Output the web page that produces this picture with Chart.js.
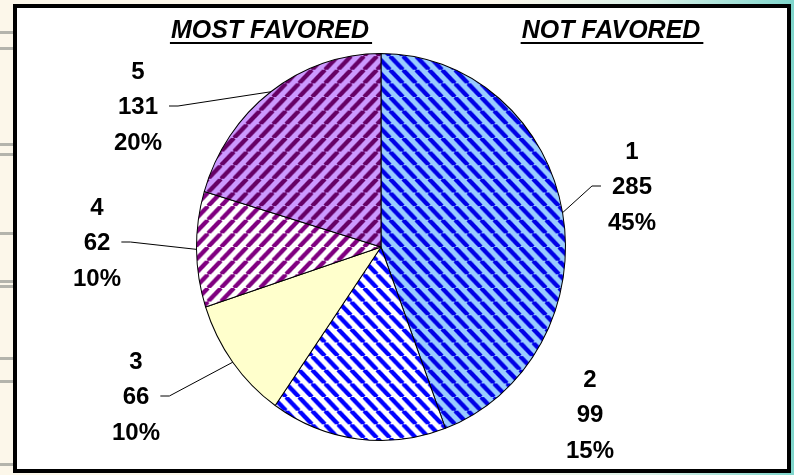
<!DOCTYPE html>
<html>
<head>
<meta charset="utf-8">
<script src="https://cdn.jsdelivr.net/npm/chart.js@4.4.0/dist/chart.umd.min.js"></script>
<style>
    html, body { margin: 0; padding: 0; }
    body {
        width: 794px; height: 475px; overflow: hidden; position: relative;
        background: linear-gradient(to right, #fcf7ea 0%, #fcf7ea 62%, #d8efe6 82%, #7fd6cc 100%);
    }
    .bar { position: absolute; left: 0; width: 13px; height: 3px; background: #b4b4ac; }
    .frame {
        position: absolute; left: 13px; top: 4px; width: 770px; height: 461px;
        border: 4px solid #000; background: #fff;
    }
    #wrap { position: absolute; left: 0; top: 0; width: 794px; height: 475px; }
</style>
</head>
<body>
<div class="bar" style="top:31px"></div>
<div class="bar" style="top:47px"></div>
<div class="bar" style="top:143px"></div>
<div class="bar" style="top:153px"></div>
<div class="bar" style="top:232px"></div>
<div class="bar" style="top:280px"></div>
<div class="bar" style="top:285px"></div>
<div class="bar" style="top:357px"></div>
<div class="bar" style="top:380px"></div>
<div class="bar" style="top:463px"></div>
<div class="frame"></div>
<div id="wrap"><canvas id="myChart" width="794" height="475"></canvas></div>
<script>
// datos
const categorias = ['1', '2', '3', '4', '5'];
const valores = [285, 99, 66, 62, 131];
const porcentajes = ['45%', '15%', '10%', '10%', '20%'];
const titulos = ['MOST FAVORED', 'NOT FAVORED'];

// donde va cada etiqueta (respecto al centro del pastel) y si lleva linea guia
const posEtiquetas = [[251, -60], [209, 168], [-245, 150], [-284, -4], [-243, -140]];
const conLinea = [true, false, true, true, true];

const SY = 1.049; // el pastel original es un poco mas alto que ancho

const rayas = (fondo, raya, dir) => {
    const n = 13;
    const c = document.createElement('canvas');
    c.width = n; c.height = n;
    const g = c.getContext('2d');
    g.fillStyle = fondo;
    g.fillRect(0, 0, n, n);
    g.strokeStyle = raya;
    g.lineWidth = 4.2;
    [-n, 0, n].forEach(o => {
        g.beginPath();
        if (dir === '\\') {
            g.moveTo(o, 0); g.lineTo(o + n, n);
        } else {
            g.moveTo(o, n); g.lineTo(o + n, 0);
        }
        g.stroke();
    });
    return g.createPattern(c, 'repeat');
};

const ctx = document.getElementById('myChart').getContext('2d');
const colores = [
    rayas('#99ccff', '#0000e6', '\\'),
    rayas('#ffffff', '#0000ff', '\\'),
    '#ffffcc',
    rayas('#ffffff', '#800080', '/'),
    rayas('#cc99ff', '#660066', '/')
];

const pluginPastel = {
    id: 'pastel',
    beforeDatasetsDraw(chart) {
        const arc = chart.getDatasetMeta(0).data[0];
        const c = chart.ctx;
        c.save();
        c.translate(arc.x, arc.y);
        c.scale(1, SY);
        c.translate(-arc.x, -arc.y);
    },
    afterDatasetsDraw(chart) {
        const c = chart.ctx;
        c.restore();
        const meta = chart.getDatasetMeta(0);
        c.save();
        c.font = 'bold 24px "Liberation Sans", Arial, sans-serif';
        c.textAlign = 'center';
        c.textBaseline = 'middle';
        c.fillStyle = '#000';
        meta.data.forEach((el, i) => {
            const p = el.getProps(['x', 'y', 'startAngle', 'endAngle', 'outerRadius'], true);
            const mid = (p.startAngle + p.endAngle) / 2;
            const ex = p.x + p.outerRadius * Math.cos(mid);
            const ey = p.y + p.outerRadius * SY * Math.sin(mid);
            const lx = p.x + posEtiquetas[i][0];
            const ly = p.y + posEtiquetas[i][1];
            c.fillText(categorias[i], lx, ly - 35);
            c.fillText(String(valores[i]), lx, ly);
            c.fillText(porcentajes[i], lx, ly + 36);
            if (conLinea[i]) {
                const w = c.measureText(String(valores[i])).width;
                const lado = lx < p.x ? 1 : -1;
                const sx = lx + lado * (w / 2 + 11);
                c.beginPath();
                c.strokeStyle = '#000';
                c.lineWidth = 1;
                c.moveTo(sx, ly - 1);
                c.lineTo(sx + lado * 9, ly - 1);
                c.lineTo(ex, ey);
                c.stroke();
            }
        });
        // titulos subrayados
        c.font = 'italic bold 25px "Liberation Sans", Arial, sans-serif';
        c.textBaseline = 'alphabetic';
        [[270, titulos[0]], [611, titulos[1]]].forEach(([tx, t]) => {
            const w = c.measureText(t).width;
            c.fillText(t, tx, 38);
            c.fillRect(tx - w / 2 - 1, 42, w + 4, 2);
        });
        c.restore();
    }
};

const myChart = new Chart(ctx, {
    type: 'pie',
    data: {
        labels: categorias,
        datasets: [{
            data: valores,
            backgroundColor: colores,
            borderColor: '#000',
            borderWidth: 1
        }]
    },
    options: {
        responsive: false,
        animation: false,
        layout: { padding: { left: 196, right: 228, top: 62, bottom: 43 } },
        plugins: {
            legend: { display: false },
            tooltip: { enabled: false }
        }
    },
    plugins: [pluginPastel]
});
</script>
</body>
</html>
